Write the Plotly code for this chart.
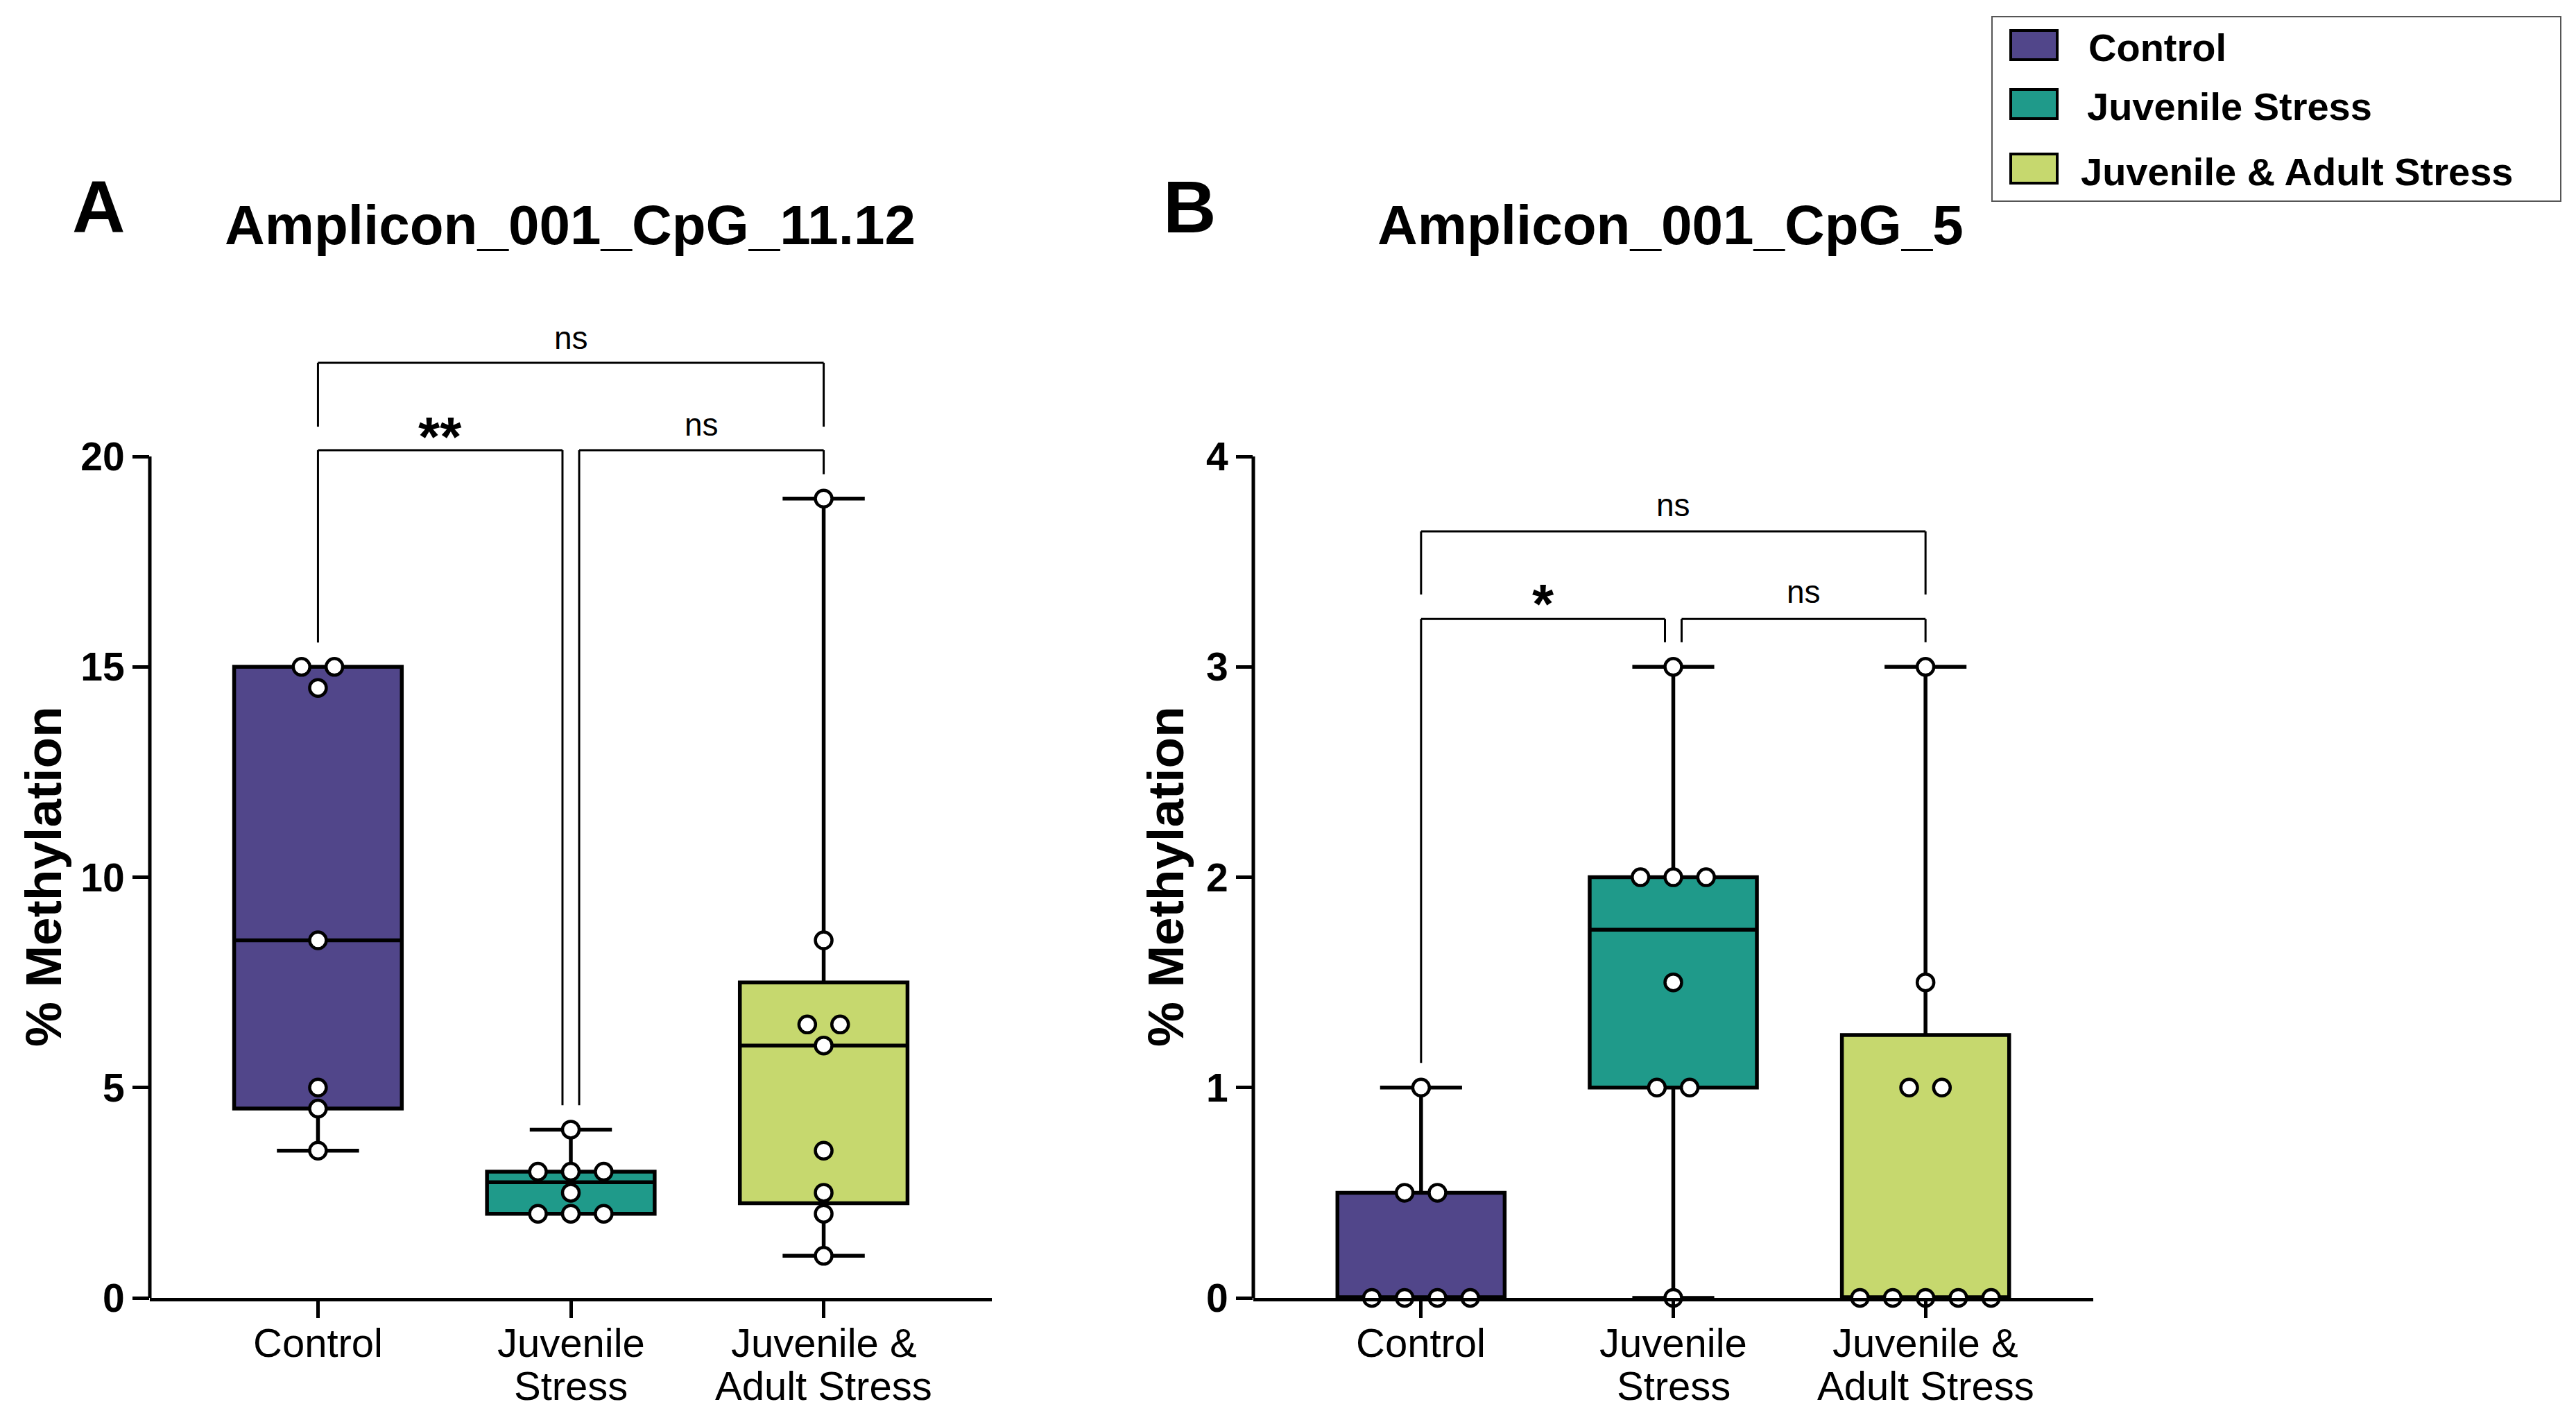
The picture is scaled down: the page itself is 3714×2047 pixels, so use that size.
import numpy as np
import plotly.graph_objects as go

# ---------------- data ----------------
groups = ["Control", "Juvenile Stress", "Juvenile & Adult Stress"]
tick_lines = [["Control"], ["Juvenile", "Stress"], ["Juvenile &", "Adult Stress"]]
colors = ["#51468A", "#1F9A8A", "#C6D86E"]

a_control = [15, 15, 14.5, 8.5, 5, 4.5, 3.5]
a_juvenile = [4, 3, 3, 3, 2.5, 2, 2, 2]
a_juv_adult = [19, 8.5, 6.5, 6.5, 6, 3.5, 2.5, 2, 1]

b_control = [1, 0.5, 0.5, 0, 0, 0, 0]
b_juvenile = [3, 2, 2, 2, 1.5, 1, 1, 0]
b_juv_adult = [3, 1.5, 1, 1, 0, 0, 0, 0, 0]

titles = ["Amplicon_001_CpG_11.12", "Amplicon_001_CpG_5"]
panel_letters = ["A", "B"]
y_title = "% Methylation"
a_ticks = [0, 5, 10, 15, 20]
b_ticks = [0, 1, 2, 3, 4]
# significance labels for pairs (0,1), (1,2), (0,2)
a_sig = ["**", "ns", "ns"]
b_sig = ["*", "ns", "ns"]

# ---------------- layout constants ----------------
W, H = 3714, 2047
OFF = 8  # page body margin
FONT = "Liberation Sans, Arial, sans-serif"


def px_x(p):
    return (p - OFF) / W


def px_y(p):
    return 1 - (p - OFF) / H


Y_DOM = [px_y(1871), px_y(458)]

panels = [
    dict(data=[a_control, a_juvenile, a_juv_adult], ticks=a_ticks, sig=a_sig,
         xdom=[px_x(216), px_x(1430)], yrange=[0, 23.30], ymax_axis=20,
         bar_lo=20.15, bar_hi=22.23, hi_leg=20.71, gap=0.58,
         lbl_lo=20.76, lbl_hi=22.82, title_x=822, letter_x=142, ytitle_x=62,
         xa="x", ya="y"),
    dict(data=[b_control, b_juvenile, b_juv_adult], ticks=b_ticks, sig=b_sig,
         xdom=[px_x(1807), px_x(3018)], yrange=[0, 4.66], ymax_axis=4,
         bar_lo=3.228, bar_hi=3.644, hi_leg=3.344, gap=0.117,
         lbl_lo=3.357, lbl_hi=3.77, title_x=2408, letter_x=1715, ytitle_x=1680,
         xa="x2", ya="y2"),
]

BOX_W = 0.663
STEP = 0.13


def quartiles(v):
    s = sorted(v)
    n = len(s)
    lower = s[: n // 2]
    upper = s[(n + 1) // 2:]
    return float(np.median(lower)), float(np.median(s)), float(np.median(upper))


def swarm_offsets(v):
    offs = np.zeros(len(v))
    vals = np.array(v, dtype=float)
    for u in np.unique(vals):
        idx = np.where(vals == u)[0]
        k = len(idx)
        offs[idx] = (np.arange(k) - (k - 1) / 2) * STEP
    return offs


fig = go.Figure()
shapes = []
annotations = []

for p in panels:
    for i, vals in enumerate(p["data"]):
        q1, med, q3 = quartiles(vals)
        fig.add_trace(go.Box(
            x=[i], q1=[q1], median=[med], q3=[q3],
            lowerfence=[min(vals)], upperfence=[max(vals)],
            width=BOX_W, whiskerwidth=0.49,
            fillcolor=colors[i], line=dict(color="black", width=5.5),
            boxpoints=False, name=groups[i], showlegend=False,
            xaxis=p["xa"], yaxis=p["ya"], hoverinfo="skip",
        ))
    for i, vals in enumerate(p["data"]):
        offs = swarm_offsets(vals)
        fig.add_trace(go.Scatter(
            x=i + offs, y=vals, mode="markers",
            marker=dict(size=24, color="white", line=dict(color="black", width=4.5)),
            cliponaxis=False, showlegend=False,
            xaxis=p["xa"], yaxis=p["ya"], hoverinfo="skip",
        ))

    xa, ya = p["xa"], p["ya"]
    # y axis line only up to the last tick
    shapes.append(dict(type="line", xref="paper", yref=ya,
                       x0=p["xdom"][0], x1=p["xdom"][0], y0=0, y1=p["ymax_axis"],
                       line=dict(color="black", width=5)))
    # x tick labels (two-line labels with tight line spacing)
    for i, lines in enumerate(tick_lines):
        for j, t in enumerate(lines):
            annotations.append(dict(x=i, y=px_y(1935 + 62 * j), xref=xa, yref="paper",
                                    text=t, showarrow=False, xanchor="center", yanchor="middle",
                                    font=dict(family=FONT, size=58, color="black")))
    # significance brackets
    maxes = [max(v) for v in p["data"]]
    lw = dict(color="black", width=3)
    pairs = [(0, 1 - 0.033), (1 + 0.033, 2)]
    ends = [(0, 1), (1, 2)]
    for (xl, xr), (gl, gr), lab in zip(pairs, ends, p["sig"][:2]):
        shapes.append(dict(type="line", xref=xa, yref=ya, x0=xl, x1=xr,
                           y0=p["bar_lo"], y1=p["bar_lo"], line=lw))
        shapes.append(dict(type="line", xref=xa, yref=ya, x0=xl, x1=xl,
                           y0=p["bar_lo"], y1=maxes[gl] + p["gap"], line=lw))
        shapes.append(dict(type="line", xref=xa, yref=ya, x0=xr, x1=xr,
                           y0=p["bar_lo"], y1=maxes[gr] + p["gap"], line=lw))
        star = "*" in lab
        annotations.append(dict(
            x=(xl + xr) / 2, y=p["lbl_lo"], xref=xa, yref=ya, text=lab,
            showarrow=False, yanchor="middle",
            yshift=-17 if star else 0,
            font=dict(family=FONT, size=80 if star else 46, color="black",
                      weight="bold" if star else "normal")))
    # top bracket
    shapes.append(dict(type="line", xref=xa, yref=ya, x0=0, x1=2,
                       y0=p["bar_hi"], y1=p["bar_hi"], line=lw))
    for xx in (0, 2):
        shapes.append(dict(type="line", xref=xa, yref=ya, x0=xx, x1=xx,
                           y0=p["bar_hi"], y1=p["hi_leg"], line=lw))
    annotations.append(dict(x=1, y=p["lbl_hi"], xref=xa, yref=ya, text=p["sig"][2],
                            showarrow=False, yanchor="middle",
                            font=dict(family=FONT, size=46, color="black")))

# titles, panel letters, y titles
for k, p in enumerate(panels):
    annotations.append(dict(x=px_x(p["title_x"]), y=px_y(325), xref="paper", yref="paper",
                            text=titles[k], showarrow=False, xanchor="center", yanchor="middle",
                            font=dict(family=FONT, size=80, color="black", weight="bold")))
    annotations.append(dict(x=px_x(p["letter_x"]), y=px_y(298), xref="paper", yref="paper",
                            text=panel_letters[k], showarrow=False, xanchor="center", yanchor="middle",
                            font=dict(family=FONT, size=106, color="black", weight="bold")))
    annotations.append(dict(x=px_x(p["ytitle_x"]), y=px_y(1264), xref="paper", yref="paper",
                            text=y_title, showarrow=False, textangle=-90,
                            xanchor="center", yanchor="middle",
                            font=dict(family=FONT, size=73, color="black", weight="bold")))

# legend (drawn manually so the swatches match the original size)
shapes.append(dict(type="rect", xref="paper", yref="paper",
                   x0=px_x(2872), x1=px_x(3692), y0=px_y(290), y1=px_y(24),
                   line=dict(color="#555555", width=2), fillcolor="white", layer="below"))
sw_centers = [65, 150, 243]
txt_x = [3009, 3007, 2998]
for i, g in enumerate(groups):
    c = sw_centers[i]
    shapes.append(dict(type="rect", xref="paper", yref="paper",
                       x0=px_x(2899), x1=px_x(2966), y0=px_y(c + 21), y1=px_y(c - 21),
                       line=dict(color="black", width=4), fillcolor=colors[i]))
    annotations.append(dict(x=px_x(txt_x[i]), y=px_y(c + 4), xref="paper", yref="paper",
                            text=g, showarrow=False, xanchor="left", yanchor="middle",
                            font=dict(family=FONT, size=56, color="black", weight="bold")))

axis_common = dict(showgrid=False, zeroline=False, automargin=False)
layout = dict(
    width=W, height=H, margin=dict(l=0, r=0, t=0, b=0, autoexpand=False),
    paper_bgcolor="white", plot_bgcolor="white", showlegend=False,
    shapes=shapes, annotations=annotations,
    font=dict(family=FONT, color="black"),
)
for k, p in enumerate(panels):
    sx = "" if k == 0 else "2"
    layout["xaxis" + sx] = dict(
        domain=p["xdom"], range=[-0.665, 2.665], anchor=p["ya"],
        tickvals=[0, 1, 2], showticklabels=False,
        showline=True, linewidth=5, linecolor="black",
        ticks="outside", ticklen=24, tickwidth=5, tickcolor="black", **axis_common)
    layout["yaxis" + sx] = dict(
        domain=Y_DOM, range=p["yrange"], anchor=p["xa"],
        tickvals=p["ticks"], ticktext=[str(t) for t in p["ticks"]],
        showline=False, ticks="outside", ticklen=24, tickwidth=5, tickcolor="black",
        tickfont=dict(family=FONT, size=57, color="black", weight="bold"), **axis_common)

fig.update_layout(**layout)
fig.write_html("out.html")
